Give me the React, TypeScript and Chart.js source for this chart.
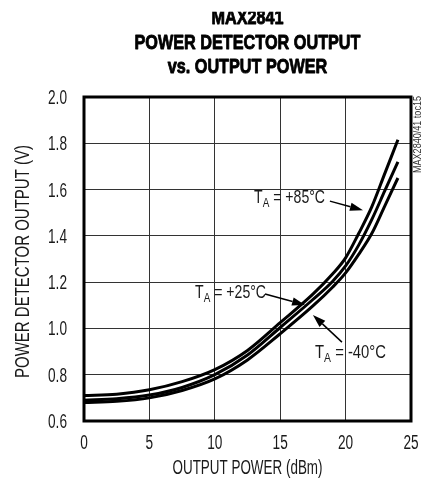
import React, { useEffect, useRef } from "react";
import { Chart, registerables } from "chart.js";

Chart.register(...registerables);

const titleLines = ["MAX2841", "POWER DETECTOR OUTPUT", "vs. OUTPUT POWER"];
const xTitle = "OUTPUT POWER (dBm)";
const yTitle = "POWER DETECTOR OUTPUT (V)";
const sideNote = "MAX2840/41 toc15";

const powerDbm = [0, 2.5, 5, 7.5, 10, 12.5, 15, 17.5, 19, 20, 21, 22, 23, 24];
const v85 = [0.71, 0.716, 0.735, 0.77, 0.822, 0.905, 1.025, 1.148, 1.235, 1.305, 1.41, 1.525, 1.67, 1.815];
const v25 = [0.69, 0.696, 0.712, 0.745, 0.8, 0.885, 1.004, 1.125, 1.203, 1.27, 1.36, 1.47, 1.595, 1.72];
const vm40 = [0.68, 0.685, 0.7, 0.732, 0.782, 0.864, 0.977, 1.097, 1.178, 1.24, 1.32, 1.41, 1.53, 1.65];

const xTicks = [0, 5, 10, 15, 20, 25];
const yTicks = [0.6, 0.8, 1.0, 1.2, 1.4, 1.6, 1.8, 2.0];

// label anchor (left, baseline), arrow tail, arrow tip - in data units
const labelTemps = ["+85°C", "+25°C", "-40°C"];
const labelAt = [[13.0, 1.542], [8.49, 1.131], [17.66, 0.872]];
const arrowFrom = [[18.8, 1.55], [13.84, 1.149], [19.72, 0.941]];
const arrowTo = [[21.33, 1.511], [16.9, 1.101], [17.5, 1.058]];

const FONT = '"Liberation Sans", Arial, sans-serif';
const INK = "#1a1a1a";
const W = 422;
const H = 479;

const drawText = (
  ctx: CanvasRenderingContext2D,
  text: string,
  x: number,
  y: number,
  sx: number,
  align: "left" | "center" | "right" = "left",
  stroke = 0
) => {
  const w = ctx.measureText(text).width * sx;
  const x0 = align === "center" ? x - w / 2 : align === "right" ? x - w : x;
  ctx.save();
  ctx.translate(x0, y);
  ctx.scale(sx, 1);
  ctx.textAlign = "left";
  ctx.fillText(text, 0, 0);
  if (stroke > 0) {
    ctx.lineWidth = stroke;
    ctx.lineJoin = "round";
    ctx.strokeStyle = ctx.fillStyle as string;
    ctx.strokeText(text, 0, 0);
  }
  ctx.restore();
  return w;
};

const decorPlugin = {
  id: "decor",
  afterDraw(chart: any) {
    const ctx: CanvasRenderingContext2D = chart.ctx;
    const { left, right, top, bottom } = chart.chartArea;
    const xs = chart.scales.x;
    const ys = chart.scales.y;
    const cx = (left + right) / 2;
    const cy = (top + bottom) / 2;
    ctx.save();
    ctx.textBaseline = "alphabetic";

    // frame
    ctx.strokeStyle = "#000";
    ctx.lineWidth = 3;
    ctx.strokeRect(left, top, right - left, bottom - top);

    // title
    ctx.fillStyle = "#000";
    ctx.font = `bold 21px ${FONT}`;
    const sxT = 226 / ctx.measureText(titleLines[1]).width;
    const baselines = [24, 48.5, 73];
    titleLines.forEach((t, i) => drawText(ctx, t, cx, baselines[i], sxT, "center", 0.9));
    ctx.fillStyle = "#fff";
    ctx.fillRect(0, 0, chart.width, 11.7);

    // tick labels
    ctx.fillStyle = INK;
    ctx.font = `19.5px ${FONT}`;
    const sxK = 0.7;
    xTicks.forEach((v) => drawText(ctx, String(v), xs.getPixelForValue(v), bottom + 28, sxK, "center"));
    yTicks.forEach((v) => drawText(ctx, v.toFixed(1), left - 17, ys.getPixelForValue(v) + 7, sxK, "right"));

    // axis titles
    ctx.font = `19.5px ${FONT}`;
    const sxX = 150 / ctx.measureText(xTitle).width;
    drawText(ctx, xTitle, cx, bottom + 53, sxX, "center");
    const sxY = 233 / ctx.measureText(yTitle).width;
    ctx.save();
    ctx.translate(29, cy + 2.5);
    ctx.rotate(-Math.PI / 2);
    drawText(ctx, yTitle, 0, 0, sxY, "center");
    ctx.restore();

    // side note
    ctx.fillStyle = "#333";
    ctx.font = `10px ${FONT}`;
    const sxN = 77 / ctx.measureText(sideNote).width;
    ctx.save();
    ctx.translate(right + 10, top - 1);
    ctx.rotate(-Math.PI / 2);
    drawText(ctx, sideNote, 0, 0, sxN, "right");
    ctx.restore();

    // annotations
    labelTemps.forEach((temp, i) => {
      const lx = xs.getPixelForValue(labelAt[i][0]);
      const ly = ys.getPixelForValue(labelAt[i][1]);
      ctx.fillStyle = INK;
      ctx.font = `18.5px ${FONT}`;
      const rest = ` = ${temp}`;
      const wTfull = ctx.measureText("T").width;
      const wRfull = ctx.measureText(rest).width;
      ctx.font = `13px ${FONT}`;
      const wAfull = ctx.measureText("A").width;
      const sxA = 71 / (wTfull + wRfull + wAfull);
      ctx.font = `18.5px ${FONT}`;
      const wT = drawText(ctx, "T", lx, ly, sxA);
      ctx.font = `13px ${FONT}`;
      const wA = drawText(ctx, "A", lx + wT, ly + 4, sxA);
      ctx.font = `18.5px ${FONT}`;
      drawText(ctx, rest, lx + wT + wA, ly, sxA);

      const x0 = xs.getPixelForValue(arrowFrom[i][0]);
      const y0 = ys.getPixelForValue(arrowFrom[i][1]);
      const x1 = xs.getPixelForValue(arrowTo[i][0]);
      const y1 = ys.getPixelForValue(arrowTo[i][1]);
      const ang = Math.atan2(y1 - y0, x1 - x0);
      const hl = 13, hw = 4.2;
      const bx = x1 - hl * Math.cos(ang);
      const by = y1 - hl * Math.sin(ang);
      ctx.strokeStyle = "#000";
      ctx.lineWidth = 1.5;
      ctx.beginPath();
      ctx.moveTo(x0, y0);
      ctx.lineTo(bx, by);
      ctx.stroke();
      ctx.fillStyle = "#000";
      ctx.beginPath();
      ctx.moveTo(x1, y1);
      ctx.lineTo(bx + hw * Math.sin(ang), by - hw * Math.cos(ang));
      ctx.lineTo(bx - hw * Math.sin(ang), by + hw * Math.cos(ang));
      ctx.closePath();
      ctx.fill();
    });
    ctx.restore();
  },
};

export default function App() {
  const ref = useRef<HTMLCanvasElement>(null);
  useEffect(() => {
    document.body.style.margin = "0";
    document.body.style.overflow = "hidden";
    if (!ref.current) return;
    const mk = (ys: number[]) => powerDbm.map((x, i) => ({ x, y: ys[i] }));
    const ds = (label: string, ys: number[]) => ({
      label,
      data: mk(ys),
      borderColor: "#000",
      borderWidth: 3,
      pointRadius: 0,
      cubicInterpolationMode: "monotone" as const,
      fill: false,
    });
    const chart = new Chart(ref.current, {
      type: "line",
      data: {
        datasets: [ds("TA = +85°C", v85), ds("TA = +25°C", v25), ds("TA = -40°C", vm40)],
      },
      plugins: [decorPlugin],
      options: {
        animation: false,
        responsive: false,
        devicePixelRatio: 1,
        layout: { padding: { top: 97, right: 11, left: 0, bottom: 0 } },
        plugins: { legend: { display: false }, tooltip: { enabled: false }, title: { display: false } },
        scales: {
          x: {
            type: "linear",
            min: 0,
            max: 25,
            afterBuildTicks: (s: any) => { s.ticks = xTicks.map((v) => ({ value: v })); },
            afterFit: (s: any) => { s.height = 58; },
            ticks: { display: false },
            grid: { color: "#333", lineWidth: 1, drawTicks: false },
            border: { display: false },
            title: { display: false, text: xTitle },
          },
          y: {
            type: "linear",
            min: 0.6,
            max: 2.0,
            afterBuildTicks: (s: any) => { s.ticks = yTicks.map((v) => ({ value: v })); },
            afterFit: (s: any) => { s.width = 84; },
            ticks: { display: false },
            grid: { color: "#333", lineWidth: 1, drawTicks: false },
            border: { display: false },
            title: { display: false, text: yTitle },
          },
        },
      },
    });
    return () => chart.destroy();
  }, []);
  return (
    <div style={{ width: W, height: H }}>
      <canvas ref={ref} width={W} height={H} style={{ width: W, height: H, display: "block" }} />
    </div>
  );
}
